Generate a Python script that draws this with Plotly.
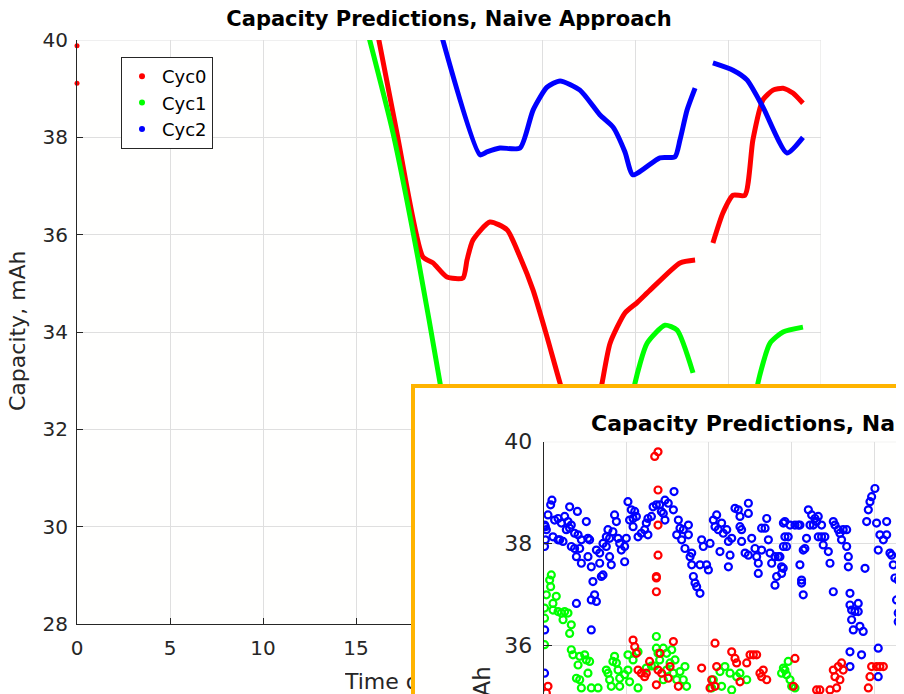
import plotly.graph_objects as go

# ---------------- data: main panel ----------------
series_names = ["Cyc0", "Cyc1", "Cyc2"]
series_colors = ["#ff0000", "#00ff00", "#0000ff"]

main_title = "Capacity Predictions, Naive Approach"
y_title = "Capacity, mAh"
x_title = "Time of day, hours"

x_ticks = [0, 5, 10, 15, 20, 25, 30, 35, 40]
y_ticks = [28, 30, 32, 34, 36, 38, 40]

red_x = [16.0, 17.2, 18.6, 19.14, 19.89, 20.75, 20.97, 21.29, 22.2, 23.12, 23.82, 24.52, 25.27, 25.97,
         26.6, 27.3, 27.9, 28.23, 28.66, 29.46, 30.1, 30.81, 32.42, 33.23, None,
         34.19, 34.73, 35.27, 35.91, 36.34, 36.88, 37.42, 37.96, 38.49, 39.03]
red_y = [40.45, 38.09, 35.54, 35.42, 35.13, 35.11, 35.48, 35.89, 36.26, 36.1, 35.54, 34.86, 33.9, 32.95,
         32.2, 31.9, 32.3, 32.95, 33.77, 34.39, 34.6, 34.86, 35.42, 35.48, None,
         35.83, 36.45, 36.81, 36.81, 37.95, 38.77, 38.97, 39.01, 38.91, 38.7]

red_start_x = [0.0, 0.0]
red_start_y = [39.88, 39.11]

green_x = [15.6, 16.99, 18.33, 19.52, 20.2, None,
           29.7, 30.0, 30.65, 31.61, 32.26, 33.12, None,
           36.3, 36.61, 37.26, 37.96, 39.03]
green_y = [40.2, 38.09, 35.52, 32.95, 31.3, None,
           32.2, 32.95, 33.77, 34.14, 34.04, 33.16, None,
           32.0, 32.95, 33.77, 34.0, 34.1]

blue_x = [19.45, 21.67, 22.04, 22.74, 23.82, 24.52, 25.27, 25.97, 27.04, 28.12, 28.82, 29.46, 29.89,
          31.34, 32.15, 32.42, 32.8, 33.23, None,
          34.19, 35.27, 36.02, 36.88, 38.17, 39.03]
blue_y = [40.3, 37.64, 37.7, 37.78, 37.78, 38.56, 39.03, 39.16, 38.97, 38.46, 38.21, 37.7, 37.23,
          37.58, 37.6, 37.95, 38.56, 39.01, None,
          39.53, 39.38, 39.18, 38.62, 37.68, 38.0]

# ---------------- data: inset (zoomed copy) ----------------
inset_y_ticks = [36, 38, 40]
inset_x_ticks = [0, 5, 10, 15, 20]

inset_blue_x = [0.50, 0.42, 0.26, 0.10, 0.10, 0.05, 0.06, 0.16, 0.56, 0.66, 0.87, 1.07, 1.27, 1.47, 1.67,
                1.57, 2.04, 0.87, 0.97, 1.17, 1.37, 1.57, 1.87, 2.08, 1.67, 1.87, 2.18, 2.28, 2.58, 2.68,
                2.78, 1.98, 2.28, 2.68, 2.88, 3.19, 3.39, 3.39, 3.59, 3.79, 3.89, 3.79, 3.99, 4.19, 4.29,
                4.40, 4.50, 4.60, 4.70, 4.90, 5.00, 4.90, 3.99, 4.09, 3.59, 3.49, 2.98, 3.08, 2.88, 3.19,
                1.98, 2.88, 0.06, 0.05, 5.10, 5.30, 5.51, 5.41, 5.20, 5.41, 5.61, 5.71, 5.91, 6.11, 6.21,
                6.31, 6.31, 6.52, 6.62, 6.82, 7.02, 7.12,
                7.89, 7.34, 7.54, 7.85, 7.24, 7.34, 8.15, 8.25, 8.76, 8.45, 8.05, 8.35, 8.76, 8.55, 8.96,
                8.86, 8.96, 9.46, 9.86, 9.97, 9.06, 9.16, 9.26, 9.46, 9.56, 9.66, 10.07, 10.27, 10.37,
                10.47, 10.57, 10.77, 10.87, 11.08, 10.67, 11.18, 11.28, 11.18, 11.38, 11.58, 11.78, 11.88,
                11.88, 11.98, 12.39, 12.39, 11.98, 12.19, 12.59, 12.39, 12.79, 12.89, 12.99, 12.99, 13.19,
                13.50, 13.40, 13.19, 13.60, 13.70, 13.80, 14.0, 14.2, 14.4, 14.1, 14.0, 14.51, 14.51,
                14.60, 14.91, 15.21, 15.41, 15.51, 14.60, 14.80, 14.70, 14.30, 14.50, 14.40, 16.02, 16.22,
                16.42, 16.52, 16.62, 16.12, 16.32, 16.82, 15.91, 15.81, 15.71, 16.62, 16.82, 17.02, 16.92,
                17.23, 17.33, 15.51, 15.61, 15.61, 15.71, 17.53, 17.63, 17.83, 17.93, 18.03, 18.13, 18.34,
                18.34, 18.44, 18.44, 19.45, 17.53, 18.54, 18.54, 18.64, 18.84, 19.04, 19.04, 18.64, 18.74,
                19.14, 19.34, 19.55, 19.65, 19.75, 19.85, 20.05, 20.15, 20.76, 20.35, 20.56, 20.76, 20.25,
                20.96, 21.06, 21.16, 21.26, 21.46, 21.36, 21.46, 21.46, 18.54, 19.24, 18.54, 20.25, 20.25]
inset_blue_y = [38.85, 38.76, 38.56, 38.33, 38.07, 37.94, 38.36, 38.27, 38.13, 38.46, 38.49, 38.40, 38.53,
                38.43, 38.36, 38.72, 38.63, 38.07, 38.07, 38.04, 38.27, 38.30, 38.20, 38.17, 37.94, 37.90,
                37.90, 38.07, 38.43, 38.10, 38.07, 37.74, 37.61, 37.74, 37.54, 37.87, 37.81, 37.61, 38.00,
                37.94, 38.27, 38.13, 38.10, 38.23, 38.56, 38.43, 38.10, 38.00, 37.87, 37.94, 38.10, 37.64,
                37.74, 37.58, 37.38, 37.35, 37.25, 36.99, 36.89, 36.86, 36.82, 36.30, 36.30, 35.45, 38.82,
                38.66, 38.63, 38.49, 38.46, 38.33, 38.53, 38.13, 38.20, 38.27, 38.40, 38.17, 38.49, 38.53,
                38.72, 38.76, 38.76, 38.63,
                39.02, 38.85, 38.79, 38.66, 38.59, 38.46, 38.46, 38.30, 38.36, 38.27, 38.17, 38.07, 38.17,
                37.90, 37.81, 37.74, 37.58, 37.58, 37.58, 37.48, 37.35, 37.22, 37.15, 37.02, 38.07, 37.94,
                38.00, 38.46, 38.33, 38.56, 38.27, 38.40, 38.20, 38.27, 37.84, 38.04, 37.77, 37.54, 38.10,
                38.69, 38.66, 38.53, 38.33, 38.27, 38.79, 38.59, 38.04, 37.81, 38.10, 37.77, 37.90, 37.74,
                37.61, 37.41, 37.87, 38.49, 38.30, 38.30, 38.07, 37.81, 37.61, 37.74, 37.74, 37.54, 37.35,
                37.18, 38.40, 37.94,
                38.43, 38.36, 38.36, 38.36, 38.36, 38.13, 38.13, 37.94, 37.74, 37.51, 37.41, 38.66, 38.56,
                38.49, 38.43, 38.53, 38.36, 38.36, 38.36, 38.10, 37.90, 37.87, 38.13, 38.13, 38.13, 37.97,
                37.84, 37.61, 37.58, 37.28, 37.22, 36.99, 38.43, 38.36, 38.27, 38.20, 38.07, 38.27, 38.27,
                37.94, 37.74, 37.54, 37.51, 37.05, 37.02, 36.79, 36.69, 36.66, 36.82, 36.66, 36.50, 36.30,
                36.37, 36.27, 38.43, 38.66, 38.82, 38.92, 39.08, 38.40, 38.43, 38.17, 38.07, 38.17, 37.87,
                37.81, 37.77, 37.58, 37.32, 37.28, 36.89, 36.63, 36.46, 35.87, 35.81, 35.58, 35.94, 35.38]

inset_green_x = [0.46, 0.36, 0.42, 0.16, 0.05, 0.05, 0.56, 0.76, 0.56, 0.87, 1.07, 1.27, 1.47, 1.17, 1.67,
                 1.57, 0.05, 1.67, 1.77, 2.18, 2.48, 2.58, 2.78, 2.08, 2.68, 1.98, 2.18, 2.28, 2.88, 3.29,
                 3.79, 3.89, 4.19, 4.29, 4.40, 4.50, 3.99, 4.09, 4.60, 4.90, 5.10, 4.60, 5.20, 5.71, 5.10,
                 5.41, 5.71, 6.21, 6.52, 6.72, 6.82, 6.82, 6.92, 7.02,
                 7.24, 7.44, 7.75, 7.95, 7.65, 7.44, 7.85, 8.25, 8.55, 8.45, 8.05, 8.65, 7.24, 10.27, 10.67,
                 10.97, 11.28, 11.68, 11.88, 12.29, 10.77, 10.17, 11.38, 14.51, 14.4,
                 14.80, 14.60, 14.70, 14.91, 15.01, 15.21]
inset_green_y = [37.38, 37.28, 37.15, 36.99, 36.73, 36.53, 36.82, 36.96, 36.69, 36.66, 36.63, 36.66, 36.63,
                 36.50, 36.40, 36.23, 36.01, 35.91, 35.81, 35.78, 35.81, 35.71, 35.68, 35.61, 35.45, 35.35,
                 35.32, 35.16, 35.16, 35.16, 35.51, 35.45, 35.68, 35.78, 35.65, 35.51, 35.32, 35.19, 35.35,
                 35.42, 35.51, 35.19, 35.28, 35.16, 35.81, 35.71, 35.87, 35.55, 35.59, 35.59, 35.94, 36.17,
                 35.84, 35.71,
                 35.94, 35.84, 35.91, 35.71, 35.65, 35.51, 35.45, 35.48, 35.58, 35.32, 35.32, 35.19, 35.32,
                 35.32, 35.48, 35.58, 35.45, 35.38, 35.45, 35.32, 35.19, 35.16, 35.12, 35.55, 35.45,
                 35.68, 35.51, 35.42, 35.32, 35.19, 35.16]

inset_red_x = [6.92, 6.72, 6.92, 6.92, 6.92, 6.82, 6.82, 6.82, 5.41, 5.51, 5.61, 5.71, 5.91, 6.11, 6.21,
               6.41, 6.82, 0.26, 0.16, 6.92,
               7.85, 9.56, 10.37, 10.47, 10.17, 10.37, 11.38, 11.58, 11.68, 11.88, 12.29, 12.49, 12.69,
               12.89, 13.09, 13.19, 13.29, 13.50, 10.07, 7.65, 7.54, 8.15, 7.04, 7.14,
               15.21, 15.11, 16.52, 16.72, 17.53, 17.83, 18.03, 18.13, 17.63, 17.93, 17.33, 17.73, 19.85,
               20.15, 20.35, 20.56, 19.75, 19.65]
inset_red_y = [39.80, 39.71, 39.05, 38.36, 37.77, 37.35, 37.32, 37.05, 36.10, 35.97, 35.84, 35.51, 35.45,
               35.38, 35.45, 35.68, 35.22, 35.19, 35.06, 35.51,
               36.07, 35.55, 36.04, 35.58, 35.32, 35.19, 35.87, 35.74, 35.65, 35.28, 35.65, 35.81, 35.81,
               35.81, 35.45, 35.38, 35.51, 35.32, 35.16, 35.58, 35.35, 35.19, 35.84, 35.45,
               35.74, 35.19, 35.12, 35.12, 35.51, 35.58, 35.65, 35.51, 35.38, 35.32, 35.12, 35.16, 35.58,
               35.58, 35.58, 35.58, 35.38, 35.16]

# ---------------- figure ----------------
PAGE_OFF = 8            # default page margin around the figure
W, H = 904 - PAGE_OFF, 694 - PAGE_OFF
FONT = "DejaVu Sans"
TXT = "#262626"
GRID = "#dfdfdf"


def px(xp):
    return (xp - PAGE_OFF) / W


def py(yp):
    return 1 - (yp - PAGE_OFF) / H


fig = go.Figure()

# subplot xy: main panel lines
for xs, ys, c in [(red_x, red_y, series_colors[0]), (green_x, green_y, series_colors[1]),
                  (blue_x, blue_y, series_colors[2])]:
    fig.add_trace(go.Scatter(x=xs, y=ys, mode="lines",
                             line=dict(color=c, width=5, shape="spline", smoothing=0.6),
                             showlegend=False, hoverinfo="skip", xaxis="x", yaxis="y"))
fig.add_trace(go.Scatter(x=red_start_x, y=red_start_y, mode="markers",
                         marker=dict(color=series_colors[0], size=5), cliponaxis=False,
                         showlegend=False, xaxis="x", yaxis="y"))

# legend entries
for n, c in zip(series_names, series_colors):
    fig.add_trace(go.Scatter(x=[None], y=[None], mode="markers", name=n,
                             marker=dict(color=c, size=6), xaxis="x", yaxis="y"))

# subplot x2y2: strip holding the main x-axis title (drawn below the inset)
fig.add_trace(go.Scatter(x=[0], y=[0.5], mode="text", text=[x_title], textposition="middle right",
                         textfont=dict(family=FONT, size=22, color=TXT),
                         showlegend=False, hoverinfo="skip", xaxis="x2", yaxis="y2"))

# subplot x3y3: inset cover (white panel)
fig.add_trace(go.Scatter(x=[None], y=[None], mode="markers", showlegend=False, xaxis="x3", yaxis="y3"))

# subplot x4y4: inset scatter
for xs, ys, c in [(inset_blue_x, inset_blue_y, series_colors[2]),
                  (inset_green_x, inset_green_y, series_colors[1]),
                  (inset_red_x, inset_red_y, series_colors[0])]:
    fig.add_trace(go.Scatter(x=xs, y=ys, mode="markers",
                             marker=dict(symbol="circle-open", color=c, size=7, line=dict(width=2.2, color=c)),
                             showlegend=False, hoverinfo="skip", xaxis="x4", yaxis="y4"))

tickfont = dict(family=FONT, size=20, color=TXT)
fig.update_layout(
    width=W, height=H,
    margin=dict(l=0, r=0, t=0, b=0),
    paper_bgcolor="#ffffff",
    plot_bgcolor="#fffffe",
    font=dict(family=FONT, color=TXT),
    title=dict(text=main_title, x=px(449), xanchor="center", y=py(19), yanchor="middle",
               font=dict(family=FONT, size=21, color="#000000", weight="bold")),
    xaxis=dict(domain=[px(77), px(821)], range=[0, 40], tickvals=x_ticks, ticks="inside", ticklen=6,
               tickcolor=TXT, showline=True, linecolor=TXT, linewidth=1, showgrid=True, gridcolor=GRID,
               zeroline=False, tickfont=tickfont, anchor="y", automargin=False, ticklabelstandoff=6,
               fixedrange=True),
    yaxis=dict(domain=[py(624), py(40)], range=[28, 40], tickvals=y_ticks, ticks="inside", ticklen=6,
               tickcolor=TXT, showline=True, linecolor=TXT, linewidth=1, showgrid=True, gridcolor=GRID,
               zeroline=False, tickfont=tickfont, anchor="x", automargin=False, ticklabelstandoff=4,
               fixedrange=True),
    xaxis2=dict(domain=[px(345), px(645)], range=[0, 300], visible=False, anchor="y2", fixedrange=True),
    yaxis2=dict(domain=[0, py(672)], range=[0, 1], visible=False, anchor="x2", fixedrange=True),
    xaxis3=dict(domain=[px(413), 1], range=[0, 1], visible=False, anchor="y3", fixedrange=True),
    yaxis3=dict(domain=[0, py(386)], range=[0, 1], visible=False, anchor="x3", fixedrange=True),
    xaxis4=dict(domain=[px(543.7), 1], range=[0, 21.81], tickvals=inset_x_ticks, ticks="",
                showticklabels=False, showline=False, showgrid=True, gridcolor=GRID, zeroline=False,
                anchor="y4", automargin=False, fixedrange=True),
    yaxis4=dict(domain=[0, py(441.7)], range=[35.04, 40], tickvals=inset_y_ticks, ticks="inside", ticklen=8,
                tickcolor=TXT, showline=True, linecolor=TXT, linewidth=1, showgrid=True, gridcolor=GRID,
                zeroline=False, tickfont=dict(family=FONT, size=22, color=TXT), anchor="x4",
                automargin=False, ticklabelstandoff=6, fixedrange=True),
    legend=dict(x=px(121), y=py(57), xanchor="left", yanchor="top", bgcolor="#ffffff",
                bordercolor=TXT, borderwidth=1, font=dict(family=FONT, size=18, color="#000000"),
                itemwidth=30, tracegroupgap=0),
    showlegend=True,
)

# boundary grid lines (MATLAB box off look)
fig.add_shape(type="line", xref="x", yref="y", x0=0, x1=40, y0=40, y1=40,
              line=dict(color=GRID, width=1), layer="below")
fig.add_shape(type="line", xref="x", yref="y", x0=40, x1=40, y0=28, y1=40,
              line=dict(color=GRID, width=1), layer="below")
fig.add_shape(type="line", xref="x4", yref="y4", x0=0, x1=21.81, y0=40, y1=40,
              line=dict(color=GRID, width=1), layer="below")

# orange frame of the inset
fig.add_shape(type="rect", xref="paper", yref="paper", x0=px(413), x1=1.05, y0=-0.05, y1=py(386),
              line=dict(color="#ffb400", width=4), fillcolor="rgba(0,0,0,0)", layer="above")

# axis titles
fig.add_annotation(text=y_title, xref="paper", yref="paper", x=px(17), y=py(331), textangle=-90,
                   showarrow=False, font=dict(family=FONT, size=22, color=TXT), xanchor="center",
                   yanchor="middle")
fig.add_annotation(text=main_title, xref="paper", yref="paper", x=px(589), y=py(423), xanchor="left",
                   yanchor="middle", showarrow=False,
                   font=dict(family=FONT, size=22, color="#000000", weight="bold"))
fig.add_annotation(text=y_title, xref="paper", yref="paper", x=px(482), y=py(664), textangle=-90,
                   showarrow=False, font=dict(family=FONT, size=23, color=TXT), xanchor="center",
                   yanchor="top")

fig.write_html("out.html")
